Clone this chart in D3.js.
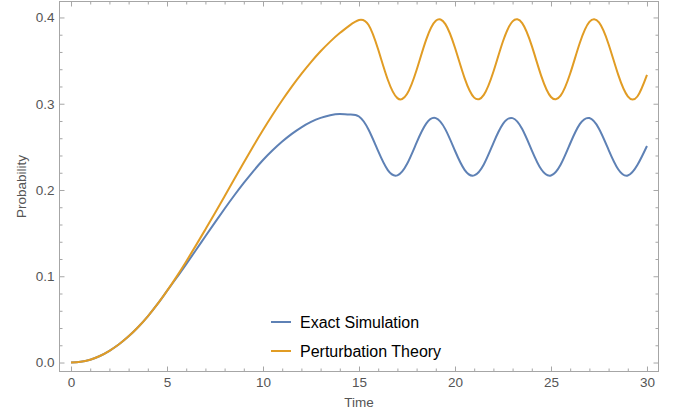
<!DOCTYPE html>
<html>
<head>
<meta charset="utf-8">
<script src="https://cdn.jsdelivr.net/npm/d3@7"></script>
<style>
    body { margin: 0; background: #fff; }
    #chart { width: 675px; height: 417px; }
    text { font-family: "Liberation Sans", Arial, sans-serif; }
</style>
</head>
<body>
<div id="chart"></div>
<script>
// Sample times, every 0.5
var times = [0, 0.5, 1, 1.5, 2, 2.5, 3, 3.5, 4, 4.5, 5, 5.5, 6, 6.5, 7, 7.5, 8, 8.5, 9, 9.5,
    10, 10.5, 11, 11.5, 12, 12.5, 13, 13.5, 14, 14.5, 15, 15.5, 16, 16.5, 17, 17.5, 18, 18.5, 19, 19.5,
    20, 20.5, 21, 21.5, 22, 22.5, 23, 23.5, 24, 24.5, 25, 25.5, 26, 26.5, 27, 27.5, 28, 28.5, 29, 29.5, 30];

var exactSim = [0, 0.0008, 0.0033, 0.0076, 0.0136, 0.0212, 0.0304, 0.0412, 0.0536, 0.0676,
    0.0830, 0.0983, 0.1141, 0.1302, 0.1464, 0.1625, 0.1783, 0.1936, 0.2082, 0.2220,
    0.2348, 0.2461, 0.2562, 0.2651, 0.2727, 0.2789, 0.2836, 0.2867, 0.2880, 0.2874,
    0.2852, 0.2699, 0.2450, 0.2231, 0.2170, 0.2301, 0.2549, 0.2769, 0.2833, 0.2703,
    0.2455, 0.2234, 0.2169, 0.2296, 0.2544, 0.2766, 0.2833, 0.2707, 0.2460, 0.2237,
    0.2168, 0.2292, 0.2539, 0.2763, 0.2834, 0.2711, 0.2466, 0.2241, 0.2168, 0.2289, 0.2510];

var perturbation = [0, 0.0008, 0.0033, 0.0076, 0.0136, 0.0212, 0.0304, 0.0412, 0.0536, 0.0676,
    0.0830, 0.0996, 0.1172, 0.1355, 0.1543, 0.1733, 0.1928, 0.2124, 0.2319, 0.2510,
    0.2695, 0.2872, 0.3040, 0.3198, 0.3346, 0.3483, 0.3608, 0.3720, 0.3819, 0.3905,
    0.3970, 0.3913, 0.3628, 0.3278, 0.3065, 0.3112, 0.3391, 0.3743, 0.3961, 0.3923,
    0.3649, 0.3297, 0.3071, 0.3102, 0.3370, 0.3724, 0.3955, 0.3934, 0.3670, 0.3317,
    0.3078, 0.3093, 0.3350, 0.3704, 0.3948, 0.3942, 0.3690, 0.3337, 0.3086, 0.3084, 0.3335];

var seriesNames = ["Exact Simulation", "Perturbation Theory"];
var seriesColors = ["#5e81b5", "#e19c24"];

var xMajor = [0, 5, 10, 15, 20, 25, 30];
var xMinor = d3.range(0, 31, 1).filter(function(d) { return d % 5 !== 0; });
var yMajor = [0, 0.1, 0.2, 0.3, 0.4];
var yMinor = [0.02, 0.04, 0.06, 0.08, 0.12, 0.14, 0.16, 0.18, 0.22, 0.24, 0.26, 0.28, 0.32, 0.34, 0.36, 0.38];

LinePlot = function(_parentElement) {
    this.parentElement = _parentElement;
    this.initVis();
};

LinePlot.prototype.initVis = function() {
    var vis = this;

    vis.width = 675;
    vis.height = 417;
    vis.frame = {left: 59.5, right: 658.5, top: 1.5, bottom: 371.5};

    vis.svg = d3.select(vis.parentElement).append("svg")
        .attr("width", vis.width)
        .attr("height", vis.height);

    // Scales (plot range padded like the original)
    vis.x = d3.scaleLinear()
        .domain([-0.6, 30.6])
        .range([vis.frame.left, vis.frame.right]);

    vis.y = d3.scaleLinear()
        .domain([-0.0104, 0.4185])
        .range([vis.frame.bottom, vis.frame.top]);

    vis.drawAxes();
    vis.drawLines();
    vis.drawLegend();
};

LinePlot.prototype.drawAxes = function() {
    var vis = this;
    var tickColor = "#a6a6a6";

    function styleAxis(g) {
        g.select(".domain").remove();
        g.selectAll("line").attr("stroke", tickColor);
        g.selectAll("text")
            .attr("fill", "#555")
            .style("font-size", "13.5px");
    }

    // bottom, with labels
    vis.svg.append("g")
        .attr("transform", "translate(0," + vis.frame.bottom + ")")
        .call(d3.axisBottom(vis.x).tickValues(xMajor).tickSizeInner(-5).tickSizeOuter(0).tickPadding(6))
        .call(styleAxis);
    vis.svg.append("g")
        .attr("transform", "translate(0," + vis.frame.bottom + ")")
        .call(d3.axisBottom(vis.x).tickValues(xMinor).tickSizeInner(-3).tickSizeOuter(0).tickFormat(""))
        .call(styleAxis);

    // top, no labels
    vis.svg.append("g")
        .attr("transform", "translate(0," + vis.frame.top + ")")
        .call(d3.axisTop(vis.x).tickValues(xMajor).tickSizeInner(-5).tickSizeOuter(0).tickFormat(""))
        .call(styleAxis);
    vis.svg.append("g")
        .attr("transform", "translate(0," + vis.frame.top + ")")
        .call(d3.axisTop(vis.x).tickValues(xMinor).tickSizeInner(-3).tickSizeOuter(0).tickFormat(""))
        .call(styleAxis);

    // left, with labels
    vis.svg.append("g")
        .attr("transform", "translate(" + vis.frame.left + ",0)")
        .call(d3.axisLeft(vis.y).tickValues(yMajor).tickSizeInner(-5).tickSizeOuter(0).tickPadding(5)
            .tickFormat(d3.format(".1f")))
        .call(styleAxis);
    vis.svg.append("g")
        .attr("transform", "translate(" + vis.frame.left + ",0)")
        .call(d3.axisLeft(vis.y).tickValues(yMinor).tickSizeInner(-3).tickSizeOuter(0).tickFormat(""))
        .call(styleAxis);

    // right, no labels
    vis.svg.append("g")
        .attr("transform", "translate(" + vis.frame.right + ",0)")
        .call(d3.axisRight(vis.y).tickValues(yMajor).tickSizeInner(-5).tickSizeOuter(0).tickFormat(""))
        .call(styleAxis);
    vis.svg.append("g")
        .attr("transform", "translate(" + vis.frame.right + ",0)")
        .call(d3.axisRight(vis.y).tickValues(yMinor).tickSizeInner(-3).tickSizeOuter(0).tickFormat(""))
        .call(styleAxis);

    // Frame
    vis.svg.append("rect")
        .attr("x", vis.frame.left)
        .attr("y", vis.frame.top)
        .attr("width", vis.frame.right - vis.frame.left)
        .attr("height", vis.frame.bottom - vis.frame.top)
        .attr("fill", "none")
        .attr("stroke", tickColor)
        .attr("stroke-width", 1);

    // Axis titles
    vis.svg.append("text")
        .attr("x", (vis.frame.left + vis.frame.right) / 2)
        .attr("y", 407)
        .attr("text-anchor", "middle")
        .attr("fill", "#555")
        .style("font-size", "13.5px")
        .text("Time");

    vis.svg.append("text")
        .attr("transform", "translate(26," + (vis.frame.top + vis.frame.bottom) / 2 + ") rotate(-90)")
        .attr("text-anchor", "middle")
        .attr("fill", "#555")
        .style("font-size", "13.5px")
        .text("Probability");
};

LinePlot.prototype.drawLines = function() {
    var vis = this;

    vis.line = d3.line()
        .x(function(d) { return vis.x(d.t); })
        .y(function(d) { return vis.y(d.v); })
        .curve(d3.curveNatural);

    var series = [exactSim, perturbation].map(function(vals, i) {
        return {
            name: seriesNames[i],
            color: seriesColors[i],
            values: times.map(function(t, j) { return {t: t, v: vals[j]}; })
        };
    });

    vis.svg.selectAll(".series").data(series)
        .enter().append("path")
        .attr("class", "series")
        .attr("d", function(d) { return vis.line(d.values); })
        .attr("fill", "none")
        .attr("stroke", function(d) { return d.color; })
        .attr("stroke-width", 2);
};

LinePlot.prototype.drawLegend = function() {
    var vis = this;

    var legend = vis.svg.selectAll(".legend").data(seriesNames)
        .enter().append("g")
        .attr("class", "legend")
        .attr("transform", function(d, i) { return "translate(271," + (322 + i * 29) + ")"; });

    legend.append("line")
        .attr("x1", 0)
        .attr("x2", 20)
        .attr("stroke", function(d, i) { return seriesColors[i]; })
        .attr("stroke-width", 2);

    legend.append("text")
        .attr("x", 29)
        .attr("dy", "0.35em")
        .attr("fill", "#000")
        .style("font-size", "16px")
        .text(function(d) { return d; });
};

new LinePlot("#chart");
</script>
</body>
</html>
